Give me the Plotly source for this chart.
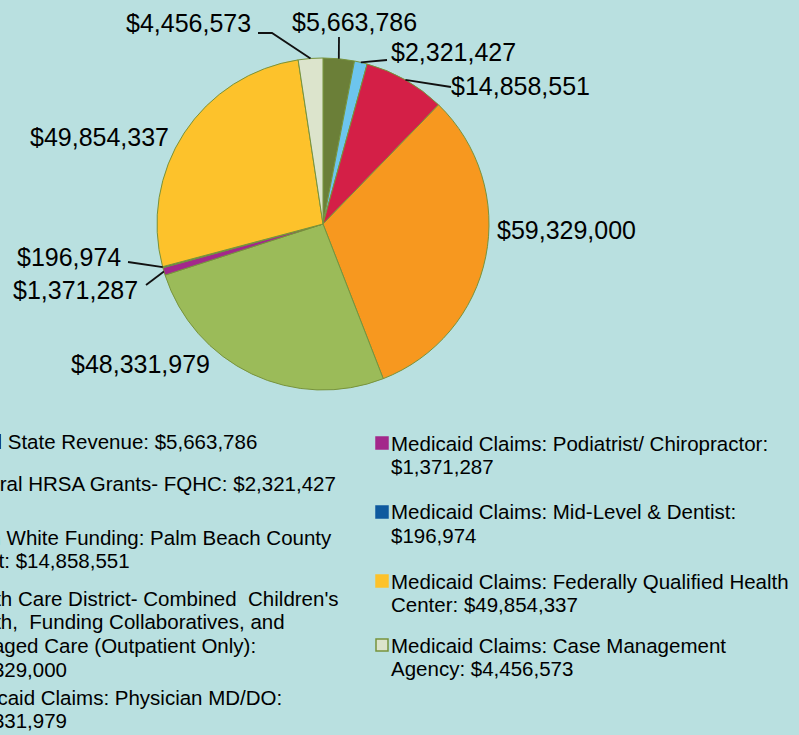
import math
import plotly.graph_objects as go

W, H = 799, 735

# slices, clockwise from 12 o'clock
categories = ["State Revenue", "Federal HRSA Grants- FQHC", "Ryan White Funding",
              "Health Care District", "Medicaid Claims: Physician MD/DO",
              "Medicaid Claims: Podiatrist/ Chiropractor", "Medicaid Claims: Mid-Level & Dentist",
              "Medicaid Claims: Federally Qualified Health Center",
              "Medicaid Claims: Case Management Agency"]
values = [5663786, 2321427, 14858551, 59329000, 48331979, 1371287, 196974, 49854337, 4456573]
colors = ["#6b7f38", "#6dc5ee", "#d41f47", "#f7981f", "#9bbb59",
          "#a3288b", "#0f5a9e", "#fdc22b", "#dce4cc"]

# legend text, one list of lines per entry (left column is cut off by the frame)
legend_left = [
    ["Local State Revenue: $5,663,786"],
    ["Federal HRSA Grants- FQHC: $2,321,427"],
    ["Ryan White Funding: Palm Beach County", "Grant: $14,858,551"],
    ["Health Care District- Combined  Children's", "Health,  Funding Collaboratives, and",
     "Managed Care (Outpatient Only):", "$59,329,000"],
    ["Medicaid Claims: Physician MD/DO:", "$48,331,979"],
]
legend_right = [
    ["Medicaid Claims: Podiatrist/ Chiropractor:", "$1,371,287"],
    ["Medicaid Claims: Mid-Level & Dentist:", "$196,974"],
    ["Medicaid Claims: Federally Qualified Health", "Center: $49,854,337"],
    ["Medicaid Claims: Case Management", "Agency: $4,456,573"],
]

FONT = "Liberation Sans, Arial, Helvetica, sans-serif"
BG = "#b9e0e0"
EDGE = "#77933c"
PAD = 3  # annotation box padding around the text


def px(x):
    return x / W


def py(y):
    return 1 - y / H


# pie geometry in pixels
cx, cy, R = 323, 224, 166

fig = go.Figure()
fig.add_trace(go.Pie(
    labels=categories, values=values, sort=False, direction="clockwise", rotation=0,
    marker=dict(colors=colors, line=dict(color=EDGE, width=1)),
    textinfo="none", hoverinfo="label+value", showlegend=False,
    domain=dict(x=[px(cx - R), px(cx + R)], y=[py(cy + R), py(cy - R)]),
))

# mid angle of every slice -> point on the rim
total = sum(values)
tips = []
acc = 0
for v in values:
    mid = (acc + v / 2) / total * 2 * math.pi
    tips.append((cx + R * math.sin(mid), cy - R * math.cos(mid)))
    acc += v

# data labels: (text anchor x, y, xanchor)
label_pos = [(354, 22, "center"), (392, 52, "left"), (452, 86, "left"), (498, 230, "left"),
             (140, 364, "center"), (137, 290, "right"), (120, 257, "right"),
             (168, 137, "right"), (250, 23, "right")]
# leader line path after the rim point (None = no leader)
leaders = [[(339, 37)], [(387, 60)], [(451, 87)], None, None,
           [(146, 285)], [(128, 262)], None, [(272, 33), (258, 33)]]
shift = {"left": -PAD, "right": PAD, "center": 0}

for i, v in enumerate(values):
    x, y, anc = label_pos[i]
    fig.add_annotation(x=px(x), y=py(y), xref="paper", yref="paper", text="${:,}".format(v),
                       showarrow=False, xanchor=anc, yanchor="middle", xshift=shift[anc],
                       font=dict(family=FONT, size=25, color="#000"))
    if leaders[i]:
        pts = [tips[i]] + leaders[i]
        path = "M " + " L ".join("{},{}".format(px(a), py(b)) for a, b in pts)
        fig.add_shape(type="path", path=path, xref="paper", yref="paper",
                      line=dict(color="#111", width=1.8))

# legend drawn as text + squares
LINE = 23.8


def draw_legend(entries, cols, text_x, tops):
    for lines, col, top in zip(entries, cols, tops):
        fig.add_shape(type="rect", xref="paper", yref="paper",
                      x0=px(text_x - 16), x1=px(text_x - 4), y0=py(top - 6), y1=py(top + 6),
                      fillcolor=col, line=dict(color=EDGE if col == "#dce4cc" else col, width=1.5))
        for k, t in enumerate(lines):
            fig.add_annotation(x=px(text_x), y=py(top + k * LINE), xref="paper", yref="paper",
                               text=t, showarrow=False, xanchor="left", yanchor="middle",
                               xshift=-PAD, font=dict(family=FONT, size=20.5, color="#000"))


draw_legend(legend_left, colors[:5], -46, [442, 483, 537, 598, 697])
draw_legend(legend_right, colors[5:], 392, [443, 512, 581, 645])

fig.update_layout(
    width=W, height=H, margin=dict(l=0, r=0, t=0, b=0),
    paper_bgcolor=BG, plot_bgcolor=BG,
)

# page body has a default 8px margin; drop it so the chart fills the window
fig.write_html("out.html", config={"displayModeBar": False},
               post_script="document.body.style.margin='0';")
